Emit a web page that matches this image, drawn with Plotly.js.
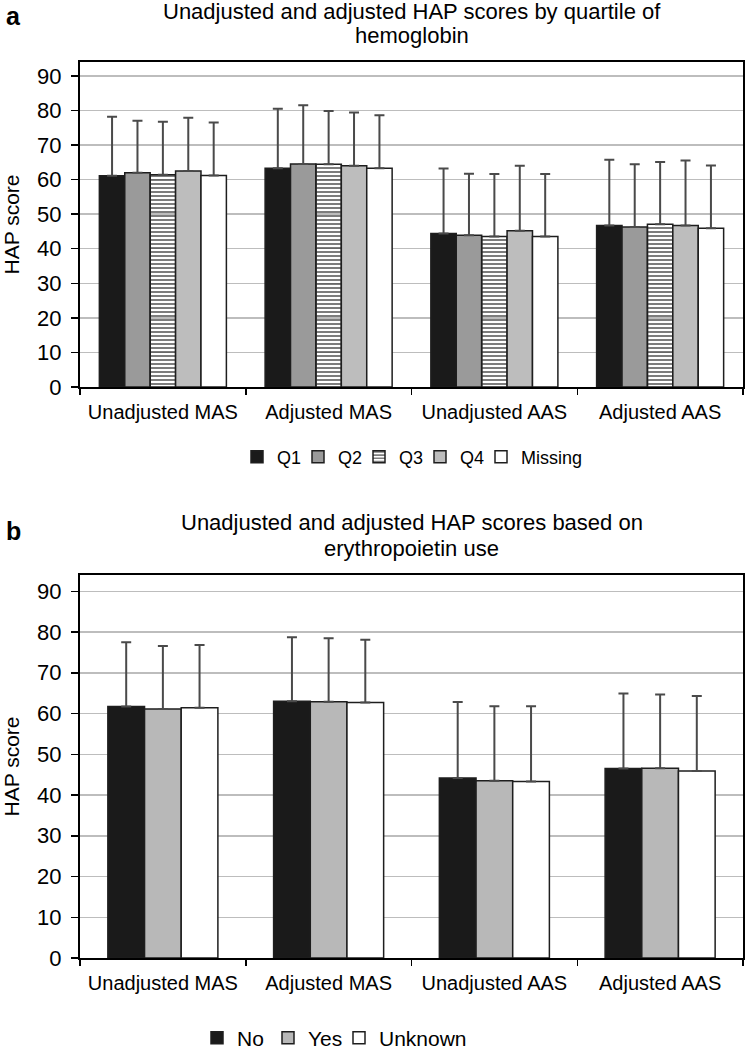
<!DOCTYPE html>
<html>
<head>
<meta charset="utf-8">
<script src="https://cdn.plot.ly/plotly-3.0.1.min.js"></script>
<style>html,body{margin:0;padding:0;background:#fff;}#chart{width:749px;height:1050px;}</style>
</head>
<body>
<div id="chart"></div>
<script>
// ---- data ----
var categories = ["Unadjusted MAS", "Adjusted MAS", "Unadjusted AAS", "Adjusted AAS"];

// Panel a: by quartile of hemoglobin (mean, SD)
var quartileNames = ["Q1", "Q2", "Q3", "Q4", "Missing"];
var q1Mean = [61.1, 63.3, 44.4, 46.7];
var q1SD   = [17.1, 17.2, 18.8, 19.0];
var q2Mean = [62.0, 64.5, 43.9, 46.3];
var q2SD   = [15.0, 17.0, 17.8, 18.1];
var q3Mean = [61.4, 64.4, 43.5, 47.1];
var q3SD   = [15.3, 15.4, 18.1, 18.0];
var q4Mean = [62.5, 64.0, 45.2, 46.7];
var q4SD   = [15.4, 15.4, 18.8, 18.8];
var missMean = [61.2, 63.3, 43.5, 45.9];
var missSD   = [15.3, 15.3, 18.1, 18.2];

// Panel b: erythropoietin use (mean, SD)
var epoNames = ["No", "Yes", "Unknown"];
var noMean = [61.7, 63.0, 44.2, 46.5];
var noSD   = [15.8, 15.7, 18.6, 18.4];
var yesMean = [61.1, 62.9, 43.5, 46.6];
var yesSD   = [15.5, 15.6, 18.3, 18.1];
var unkMean = [61.4, 62.7, 43.3, 45.9];
var unkSD   = [15.4, 15.4, 18.5, 18.4];

var titleA1 = "Unadjusted and adjusted HAP scores by quartile of";
var titleA2 = "hemoglobin";
var titleB1 = "Unadjusted and adjusted HAP scores based on";
var titleB2 = "erythropoietin use";
var yTitle = "HAP score";

// ---- styling / layout ----
var FONT = "Liberation Sans, Arial, Helvetica, sans-serif";
var W = 749, H = 1050, ML = 80, MR = 6, MT = 62, MB = 92;
var plotW = W - ML - MR, plotH = H - MT - MB;
function px(x) { return (x - ML) / plotW; }
function py(y) { return (H - MB - y) / plotH; }

var ERR = {color: "#4a4a4a", thickness: 2, width: 5};
var LINE = {color: "#1e1e1e", width: 1.5};

function makeBar(name, mean, sd, style, idx, n, groupW, xa, ya, leg, lastLegW) {
  var w = groupW / n;
  var t = {
    type: "bar", name: name, x: categories, y: mean,
    xaxis: xa, yaxis: ya, legend: leg,
    width: w, offset: -groupW / 2 + idx * w,
    marker: {color: style.color, line: LINE},
    error_y: {type: "data", symmetric: false, array: sd,
              arrayminus: sd.map(function(){return 0;}),
              color: ERR.color, thickness: ERR.thickness, width: ERR.width},
    hoverinfo: "name+y"
  };
  if (style.pattern) t.marker.pattern = style.pattern;
  if (idx === n - 1) t.legendwidth = lastLegW;
  return t;
}

var stylesA = [
  {color: "#1a1a1a"},
  {color: "#9a9a9a"},
  {color: "#e0e0e0", pattern: {shape: "-", fgcolor: "#444", size: 4, solidity: 0.35}},
  {color: "#bdbdbd"},
  {color: "#ffffff"}
];
var stylesB = [
  {color: "#1a1a1a"},
  {color: "#b8b8b8"},
  {color: "#ffffff"}
];
var seriesA = [[q1Mean, q1SD], [q2Mean, q2SD], [q3Mean, q3SD], [q4Mean, q4SD], [missMean, missSD]];
var seriesB = [[noMean, noSD], [yesMean, yesSD], [unkMean, unkSD]];

var traces = [];
var groupA = 127 / 165.7, groupB = 110 / 165.7;
seriesA.forEach(function(s, i) {
  traces.push(makeBar(quartileNames[i], s[0], s[1], stylesA[i], i, seriesA.length, groupA, "x", "y", "legend", 70));
});
seriesB.forEach(function(s, i) {
  traces.push(makeBar(epoNames[i], s[0], s[1], stylesB[i], i, seriesB.length, groupB, "x2", "y2", "legend2", 96));
});

function xAxis(anchor) {
  return {
    anchor: anchor, domain: [0, 1], type: "category",
    showline: true, mirror: true, linecolor: "#000", linewidth: 2,
    ticks: "outside", tickson: "boundaries", ticklen: 6, tickwidth: 1.5, tickcolor: "#000",
    showgrid: false, zeroline: false,
    tickfont: {family: FONT, size: 20, color: "#000"},
    tickangle: 0,
    ticklabelstandoff: 6,
    fixedrange: true
  };
}
function yAxis(anchor, domain, textTitle) {
  return {
    anchor: anchor, domain: domain, range: [0, 94],
    tickmode: "linear", tick0: 0, dtick: 10,
    showline: true, mirror: true, linecolor: "#000", linewidth: 2,
    ticks: "outside", ticklen: 7, tickwidth: 1.5, tickcolor: "#000",
    showgrid: true, gridcolor: "#bdbdbd", gridwidth: 1.5,
    zeroline: false,
    tickfont: {family: FONT, size: 22, color: "#000"},
    ticklabelstandoff: 5,
    title: {text: textTitle, font: {family: FONT, size: 21, color: "#000"}, standoff: 12},
    fixedrange: true
  };
}

var layout = {
  width: W, height: H,
  margin: {l: ML, r: MR, t: MT, b: MB, pad: 0, autoexpand: false},
  paper_bgcolor: "#fff", plot_bgcolor: "#fff",
  font: {family: FONT, color: "#000"},
  barmode: "group",
  xaxis: xAxis("y"),
  yaxis: yAxis("x", [py(387), 1], yTitle),
  xaxis2: xAxis("y2"),
  yaxis2: yAxis("x2", [0, py(575)], yTitle),
  showlegend: true,
  legend: {
    orientation: "h", x: px(237), xanchor: "left", y: py(457), yanchor: "middle",
    font: {family: FONT, size: 18, color: "#000"}, itemwidth: 30, entrywidth: 16,
    bgcolor: "rgba(0,0,0,0)", traceorder: "normal", itemclick: false
  },
  legend2: {
    orientation: "h", x: px(197), xanchor: "left", y: py(1038), yanchor: "middle",
    font: {family: FONT, size: 21, color: "#000"}, itemwidth: 30, entrywidth: 26,
    bgcolor: "rgba(0,0,0,0)", traceorder: "normal", itemclick: false
  },
  annotations: [
    {text: "<b>a</b>", xref: "paper", yref: "paper", x: px(4), y: py(0), xanchor: "left", yanchor: "top", showarrow: false, font: {family: FONT, size: 25, color: "#000"}},
    {text: titleA1, xref: "paper", yref: "paper", x: 0.5, y: py(11), xanchor: "center", yanchor: "middle", showarrow: false, font: {family: FONT, size: 22, color: "#000"}},
    {text: titleA2, xref: "paper", yref: "paper", x: 0.5, y: py(36), xanchor: "center", yanchor: "middle", showarrow: false, font: {family: FONT, size: 22, color: "#000"}},
    {text: "<b>b</b>", xref: "paper", yref: "paper", x: px(4), y: py(531), xanchor: "left", yanchor: "middle", showarrow: false, font: {family: FONT, size: 25, color: "#000"}},
    {text: titleB1, xref: "paper", yref: "paper", x: 0.5, y: py(522), xanchor: "center", yanchor: "middle", showarrow: false, font: {family: FONT, size: 22, color: "#000"}},
    {text: titleB2, xref: "paper", yref: "paper", x: 0.5, y: py(548), xanchor: "center", yanchor: "middle", showarrow: false, font: {family: FONT, size: 22, color: "#000"}}
  ]
};

Plotly.newPlot("chart", traces, layout, {displayModeBar: false, staticPlot: true});
</script>
</body>
</html>
